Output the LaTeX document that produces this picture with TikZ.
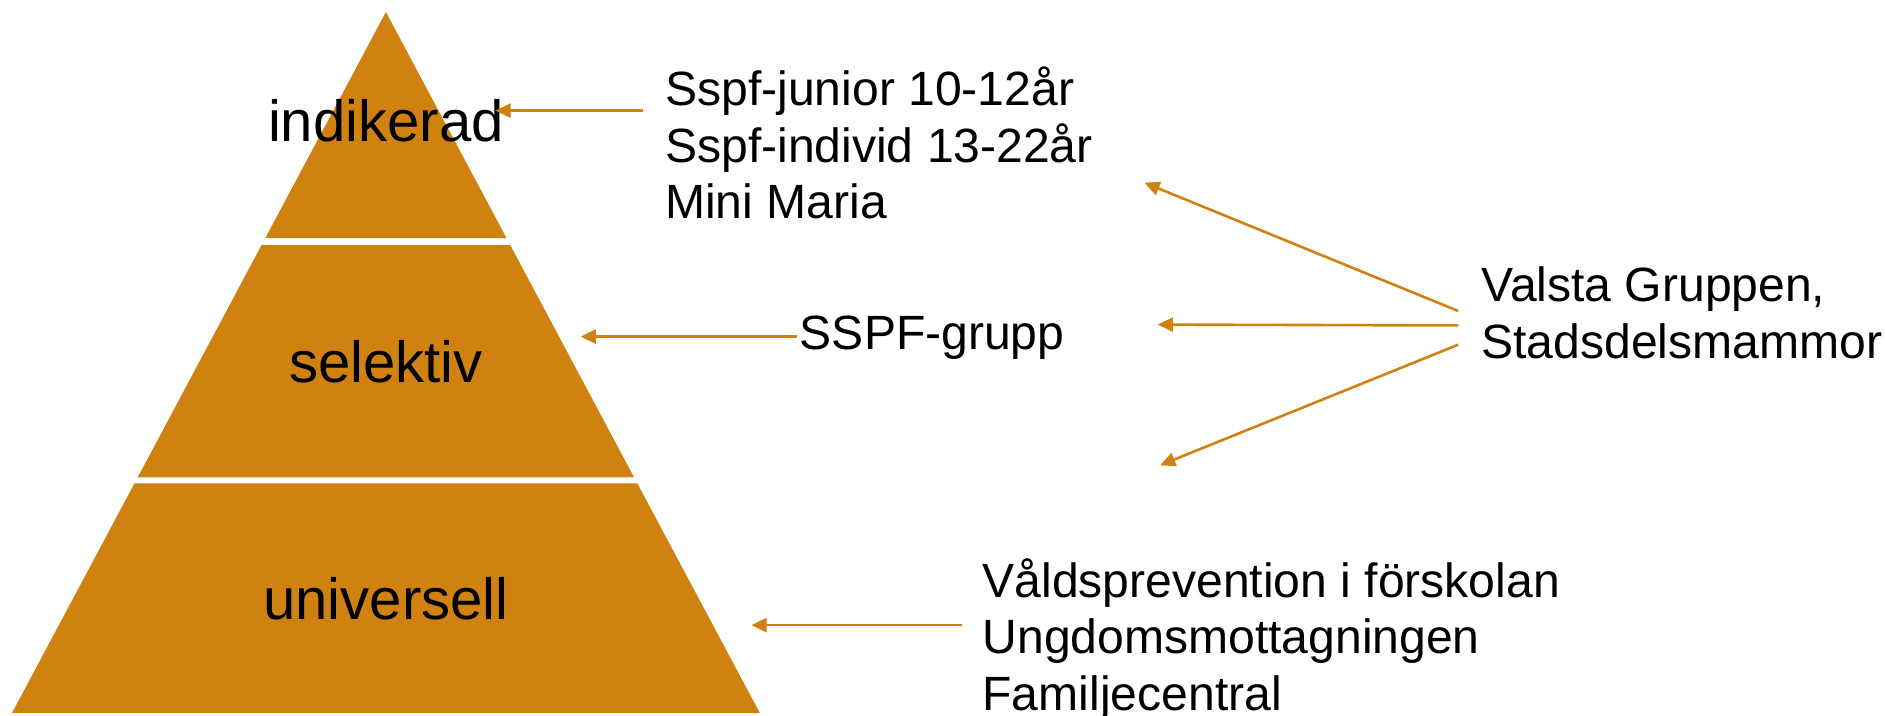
\documentclass[tikz,border=0pt]{standalone}
\usepackage{fontspec}
\setmainfont{Liberation Sans}
\usepackage{tikz}
\usetikzlibrary{arrows.meta}

\definecolor{pyr}{RGB}{208,130,16}

\begin{document}
\begin{tikzpicture}[x=0.6pt, y=-0.6pt,
  lab/.style={font=\fontsize{29}{34}\selectfont, inner sep=0pt},
  txt/.style={font=\fontsize{24}{28.2}\selectfont, align=left, anchor=base west},
  pil/.style={draw=pyr, line width=1.3pt, -{Triangle[length=7.6pt, width=7pt]}}]

\useasboundingbox (0,0) rectangle (1568,595);

% pyramiden
\fill[pyr] (321,10) -- (421.3,198) -- (220.7,198) -- cycle;
\fill[pyr] (217.5,204) -- (424.5,204) -- (527.4,397) -- (114.6,397) -- cycle;
\fill[pyr] (111.9,402) -- (530.1,402) -- (632,593) -- (10,593) -- cycle;

\node[lab, anchor=base](indik) at (321,118) {indikerad};
\node[lab, anchor=base](selek) at (321,318) {selektiv};
\node[lab, anchor=base](univ) at (321,515) {universell};

% texterna till hoger (base = sista raden)
\node[txt, inner xsep=10.8pt](junior) at (535,182) {Sspf-junior 10-12år\\Sspf-individ 13-22år\\Mini Maria};
\node[txt, inner xsep=1.2pt](grupp) at (663,291) {SSPF-grupp};
\node[txt, inner xsep=11.4pt](valsta) at (1213,298) {Valsta Gruppen,\\Stadsdelsmammor};
\node[txt, inner xsep=10.2pt](vald) at (800,591) {Våldsprevention i förskolan\\Ungdomsmottagningen\\Familjecentral};

\coordinate(tipA) at (412,92);
\coordinate(tipB) at (483,280);
\coordinate(tipC) at (625,520);
\coordinate(tipD) at (952,152);
\coordinate(tipE) at (963,270);
\coordinate(tipF) at (965,387);

\draw[pil] (junior.west |- tipA) -- (tipA);
\draw[pil] (grupp.west |- tipB) -- (tipB);
\draw[pil] (vald.west |- tipC) -- (tipC);

\draw[pil] ([yshift=0.9pt]valsta.west) -- (tipD);
\draw[pil] ([yshift=-6.3pt]valsta.west) -- (tipE);
\draw[pil] ([yshift=-15.9pt]valsta.west) -- (tipF);

\end{tikzpicture}
\end{document}
